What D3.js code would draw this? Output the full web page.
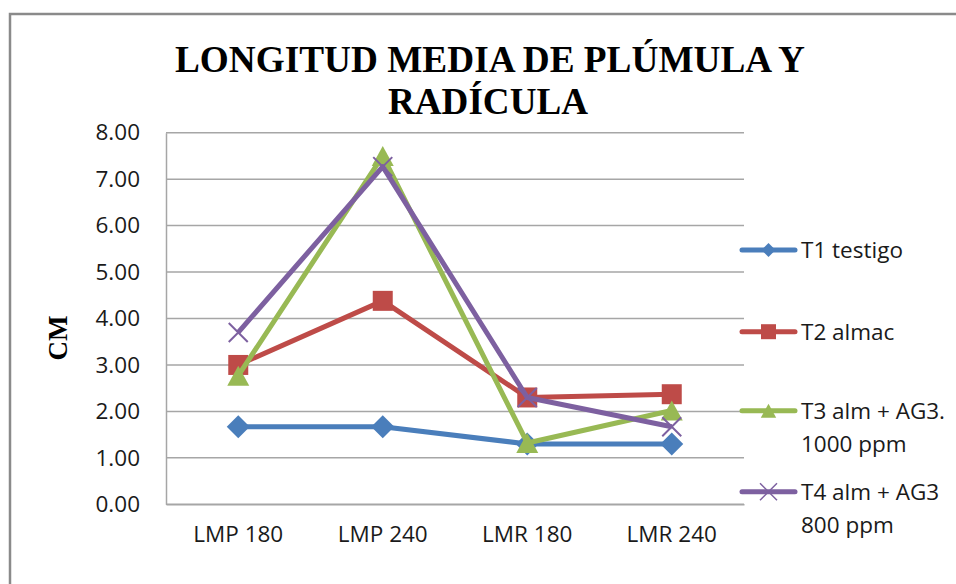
<!DOCTYPE html>
<html>
<head>
<meta charset="utf-8">
<script src="https://cdn.jsdelivr.net/npm/d3@7"></script>
<style>
  body { margin: 0; background: #fff; }
  svg { display: block; }
</style>
</head>
<body>
<svg id="chart" width="956" height="584"></svg>
<script>
// data
const categories = ["LMP 180", "LMP 240", "LMR 180", "LMR 240"];
const t1 = [1.67, 1.67, 1.30, 1.30];
const t2 = [3.00, 4.38, 2.30, 2.37];
const t3 = [2.77, 7.50, 1.32, 2.02];
const t4 = [3.70, 7.27, 2.30, 1.67];
const seriesNames = [["T1 testigo"], ["T2 almac"], ["T3 alm + AG3.", "1000 ppm"], ["T4 alm + AG3", "800 ppm"]];
const yTicks = [0, 1, 2, 3, 4, 5, 6, 7, 8];

const colors = ["#4a7ebb", "#be4b48", "#98b954", "#7d60a0"];
const shapes = ["diamond", "square", "triangle", "x"];
const series = [t1, t2, t3, t4].map((values, i) => ({
    values, name: seriesNames[i], color: colors[i], shape: shapes[i]
}));

const svg = d3.select("#chart");
svg.append("rect").attr("width", 956).attr("height", 584).attr("fill", "#fff");

// chart border (left and top visible)
svg.append("path")
    .attr("d", "M10,584V14H956")
    .attr("fill", "none")
    .attr("stroke", "#8a8a8a")
    .attr("stroke-width", 2.5);

const plot = { left: 166, right: 744, top: 132.7, bottom: 504.3 };
const labelFont = "Open Sans, sans-serif";
const labelSize = 22.5;

const x = d3.scaleBand().domain(categories).range([plot.left, plot.right]);
const y = d3.scaleLinear().domain([0, 8]).range([plot.bottom, plot.top]);
const cx = d => x(d) + x.bandwidth() / 2;

// gridlines
svg.append("g")
    .selectAll("line")
    .data(yTicks)
    .join("line")
    .attr("x1", plot.left).attr("x2", plot.right)
    .attr("y1", d => y(d)).attr("y2", d => y(d))
    .attr("stroke", "#a6a6a6")
    .attr("stroke-width", 1.5);

// y axis
const yAxis = svg.append("g")
    .attr("transform", `translate(${plot.left},0)`)
    .call(d3.axisLeft(y).tickValues(yTicks).tickFormat(d3.format(".2f")).tickSize(0).tickPadding(26));
yAxis.select(".domain").attr("stroke", "#a6a6a6").attr("stroke-width", 1.5);
yAxis.selectAll("text")
    .attr("font-family", labelFont)
    .attr("font-size", labelSize)
    .attr("fill", "#1a1a1a");

// x axis
const xAxis = svg.append("g")
    .attr("transform", `translate(0,${plot.bottom})`)
    .call(d3.axisBottom(x).tickSize(0).tickPadding(22));
xAxis.select(".domain").attr("stroke", "#a6a6a6").attr("stroke-width", 1.5);
xAxis.selectAll("text")
    .attr("font-family", labelFont)
    .attr("font-size", labelSize)
    .attr("fill", "#1a1a1a");

// y axis title
svg.append("text")
    .attr("transform", "translate(67,338) rotate(-90)")
    .attr("text-anchor", "middle")
    .attr("font-family", "Liberation Serif, Times New Roman, serif")
    .attr("font-weight", "bold")
    .attr("font-size", 27)
    .text("CM");

// chart title
const title = svg.append("g")
    .attr("font-family", "Liberation Serif, Times New Roman, serif")
    .attr("font-weight", "bold")
    .attr("font-size", 38)
    .attr("fill", "#000")
    .style("white-space", "pre");
title.append("text")
    .attr("x", 175).attr("y", 72)
    .attr("textLength", 630).attr("lengthAdjust", "spacingAndGlyphs")
    .text("LONGITUD  MEDIA DE PLÚMULA Y");
title.append("text")
    .attr("x", 388).attr("y", 114)
    .attr("textLength", 200).attr("lengthAdjust", "spacingAndGlyphs")
    .text("RADÍCULA");

function markerPath(shape, s) {
    const h = s / 2;
    if (shape === "diamond") return `M0,${-h}L${h},0L0,${h}L${-h},0Z`;
    if (shape === "square") return `M${-h},${-h}H${h}V${h}H${-h}Z`;
    if (shape === "triangle") return `M0,${-h}L${h * 1.1},${h}H${-h * 1.1}Z`;
    return `M${-h},${-h}L${h},${h}M${h},${-h}L${-h},${h}`;
}
const markerSize = { diamond: 23, square: 20, triangle: 20, x: 19 };
const legendSize = { diamond: 14, square: 15, triangle: 14, x: 17 };

const line = d3.line()
    .x((d, i) => cx(categories[i]))
    .y(d => y(d));

series.forEach(s => {
    const g = svg.append("g");
    g.append("path")
        .attr("d", line(s.values))
        .attr("fill", "none")
        .attr("stroke", s.color)
        .attr("stroke-width", 5)
        .attr("stroke-linejoin", "round");
    g.selectAll(".m")
        .data(s.values)
        .join("path")
        .attr("transform", (d, i) => `translate(${cx(categories[i])},${y(d)})`)
        .attr("d", markerPath(s.shape, markerSize[s.shape]))
        .attr("fill", s.shape === "x" ? "none" : s.color)
        .attr("stroke", s.shape === "x" ? s.color : "none")
        .attr("stroke-width", 2);
});

// legend
const legendY = [250, 331.7, 410.7, 491.7];
const legend = svg.append("g");
series.forEach((s, i) => {
    const ly = legendY[i];
    legend.append("line")
        .attr("x1", 742).attr("x2", 795)
        .attr("y1", ly).attr("y2", ly)
        .attr("stroke", s.color)
        .attr("stroke-width", 5)
        .attr("stroke-linecap", "round");
    legend.append("path")
        .attr("transform", `translate(768.5,${ly})`)
        .attr("d", markerPath(s.shape, legendSize[s.shape]))
        .attr("fill", s.shape === "x" ? "none" : s.color)
        .attr("stroke", s.shape === "x" ? s.color : "none")
        .attr("stroke-width", 1.5);
    s.name.forEach((t, j) => {
        legend.append("text")
            .attr("x", 801)
            .attr("y", ly + 8 + j * 33.4)
            .attr("font-family", labelFont)
            .attr("font-size", labelSize)
            .attr("fill", "#1a1a1a")
            .text(t);
    });
});
</script>
</body>
</html>
